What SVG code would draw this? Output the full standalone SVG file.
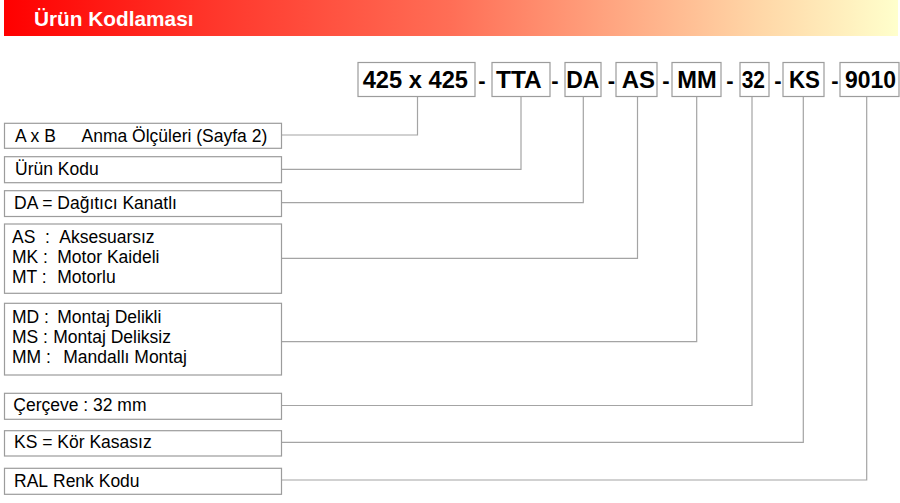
<svg xmlns="http://www.w3.org/2000/svg" width="900" height="503" viewBox="0 0 900 503">
<defs>
<linearGradient id="hdr" x1="0" y1="0" x2="1" y2="0">
<stop offset="0" stop-color="#ff0000"/>
<stop offset="0.25" stop-color="#ff3a2e"/>
<stop offset="0.5" stop-color="#ff6e56"/>
<stop offset="0.67" stop-color="#ffa27e"/>
<stop offset="0.85" stop-color="#ffd8a8"/>
<stop offset="1" stop-color="#ffffcc"/>
</linearGradient>
</defs>
<style>
.box{fill:#fff;stroke:#9c9c9c;stroke-width:1.2}
.code{font-family:"Liberation Sans",Arial,sans-serif;font-weight:bold;font-size:23px;fill:#000}
.dash{font-family:"Liberation Sans",Arial,sans-serif;font-weight:bold;font-size:22px;fill:#000;text-anchor:middle}
.lbl{font-family:"Liberation Sans",Arial,sans-serif;font-size:17.5px;fill:#000;white-space:pre}
.conn{fill:none;stroke:#a4a4a4;stroke-width:1.2}
.title{font-family:"Liberation Sans",Arial,sans-serif;font-weight:bold;font-size:20.8px;fill:#fff}
</style>
<rect x="4" y="0" width="894" height="36" fill="url(#hdr)"/>
<text class="title" x="34" y="26">Ürün Kodlaması</text>

<g id="connectors">
<polyline class="conn" points="282,135 417.5,135 417.5,97"/>
<polyline class="conn" points="282,169.3 521,169.3 521,97"/>
<polyline class="conn" points="282,202.7 583.3,202.7 583.3,97"/>
<polyline class="conn" points="282,258.3 637.5,258.3 637.5,97"/>
<polyline class="conn" points="282,341.7 696.7,341.7 696.7,97"/>
<polyline class="conn" points="282,405.5 752,405.5 752,97"/>
<polyline class="conn" points="282,442.3 803.3,442.3 803.3,97"/>
<polyline class="conn" points="282,480 866.7,480 866.7,97"/>
</g>

<g id="code-size"><rect class="box" x="358" y="62.5" width="117" height="34"/><text class="code" x="362.7" y="87.5" textLength="105.3" lengthAdjust="spacingAndGlyphs">425 x 425</text></g>
<g id="code-tta"><rect class="box" x="492" y="62.5" width="58" height="34"/><text class="code" x="496" y="87.5" textLength="45.7" lengthAdjust="spacingAndGlyphs">TTA</text></g>
<g id="code-da"><rect class="box" x="565" y="62.5" width="36" height="34"/><text class="code" x="566.2" y="87.5" textLength="33.2" lengthAdjust="spacingAndGlyphs">DA</text></g>
<g id="code-as"><rect class="box" x="616" y="62.5" width="41" height="34"/><text class="code" x="621.7" y="87.5" textLength="33.3" lengthAdjust="spacingAndGlyphs">AS</text></g>
<g id="code-mm"><rect class="box" x="672" y="62.5" width="49" height="34"/><text class="code" x="677.3" y="87.5" textLength="39.4" lengthAdjust="spacingAndGlyphs">MM</text></g>
<g id="code-32"><rect class="box" x="740" y="62.5" width="29" height="34"/><text class="code" x="741.7" y="87.5" textLength="23.3" lengthAdjust="spacingAndGlyphs">32</text></g>
<g id="code-ks"><rect class="box" x="783" y="62.5" width="41" height="34"/><text class="code" x="789" y="87.5" textLength="31" lengthAdjust="spacingAndGlyphs">KS</text></g>
<g id="code-ral"><rect class="box" x="840" y="62.5" width="59" height="34"/><text class="code" x="845" y="87.5" textLength="51" lengthAdjust="spacingAndGlyphs">9010</text></g>

<g id="dashes">
<text class="dash" x="482" y="87.5">-</text>
<text class="dash" x="555" y="87.5">-</text>
<text class="dash" x="611.5" y="87.5">-</text>
<text class="dash" x="666" y="87.5">-</text>
<text class="dash" x="730" y="87.5">-</text>
<text class="dash" x="778" y="87.5">-</text>
<text class="dash" x="835" y="87.5">-</text>
</g>

<g id="lbl-size"><rect class="box" x="4.5" y="123.3" width="277" height="25"/><text class="lbl" x="15" y="141.5">A x B<tspan x="81.5">Anma Ölçüleri (Sayfa 2)</tspan></text></g>
<g id="lbl-code"><rect class="box" x="4.5" y="156.7" width="277" height="26"/><text class="lbl" x="15" y="174.8">Ürün Kodu</text></g>
<g id="lbl-da"><rect class="box" x="4.5" y="190.7" width="277" height="25.8"/><text class="lbl" x="14" y="209">DA = Dağıtıcı Kanatlı</text></g>
<g id="lbl-acc"><rect class="box" x="4.5" y="224" width="277" height="69.3"/>
<text class="lbl" x="12" y="243.3">AS  :<tspan x="59.3">Aksesuarsız</tspan></text>
<text class="lbl" x="12" y="263.3">MK :<tspan x="57.3">Motor Kaideli</tspan></text>
<text class="lbl" x="12" y="283.3">MT :<tspan x="57.3">Motorlu</tspan></text>
</g>
<g id="lbl-mount"><rect class="box" x="4.5" y="303.3" width="277" height="71.7"/>
<text class="lbl" x="12" y="323.3">MD :<tspan x="57.3">Montaj Delikli</tspan></text>
<text class="lbl" x="12" y="343.3">MS :<tspan x="53.3">Montaj Deliksiz</tspan></text>
<text class="lbl" x="12" y="363.3">MM :<tspan x="63.3">Mandallı Montaj</tspan></text>
</g>
<g id="lbl-frame"><rect class="box" x="4.5" y="393.3" width="277" height="26"/><text class="lbl" x="13.3" y="411">Çerçeve : 32 mm</text></g>
<g id="lbl-ks"><rect class="box" x="4.5" y="430.7" width="277" height="25.3"/><text class="lbl" x="14" y="448.3">KS = Kör Kasasız</text></g>
<g id="lbl-ral"><rect class="box" x="4.5" y="468.3" width="277" height="26"/><text class="lbl" x="14" y="486.7">RAL<tspan x="53">Renk Kodu</tspan></text></g>
</svg>
